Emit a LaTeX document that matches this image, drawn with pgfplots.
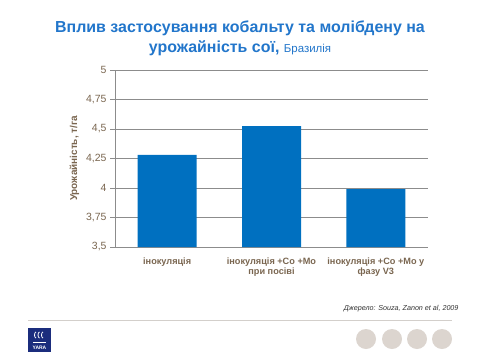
\documentclass[border=0pt]{standalone}
\usepackage{fontspec}
\setmainfont{Liberation Sans}
\usepackage{pgfplots}
\pgfplotsset{compat=1.18}
\definecolor{titleblue}{HTML}{2276CB}
\definecolor{barblue}{HTML}{0070C0}
\definecolor{lblbrown}{HTML}{7A6650}
\definecolor{gridgray}{HTML}{8C8C8C}
\definecolor{footgray}{HTML}{D3CFCB}
\definecolor{dotgray}{HTML}{DCD5CF}
\definecolor{yaranavy}{HTML}{1B2D7D}
\begin{document}
\begin{tikzpicture}[x=1bp,y=1bp]
\fill[white] (0,0) rectangle (480,360);
% title
\node[font=\bfseries\fontsize{16}{19}\selectfont, text=titleblue, align=center, anchor=center] at (240,322)
  {Вплив застосування кобальту та молібдену на\\[1pt]урожайність сої, {\mdseries\fontsize{11.5}{13}\selectfont Бразилія}};
\begin{axis}[
  at={(115bp,113bp)}, anchor=south west,
  width=313bp, height=177bp, scale only axis,
  xmin=-0.5, xmax=2.5, ymin=3.5, ymax=5,
  ytick={3.5,3.75,4,4.25,4.5,4.75,5},
  /pgf/number format/use comma,
  /pgf/number format/fixed,
  /pgf/number format/assume math mode=true,
  yticklabel style={font=\fontsize{10.5}{12}\selectfont, text=lblbrown},
  ymajorgrids, grid style={gridgray, line width=0.6pt},
  axis x line=bottom, axis y line=left,
  axis line style={gridgray, line width=0.8pt, -},
  tick align=outside,
  major tick length=5bp,
  ytick style={gridgray, line width=0.8pt},
  xtick={0,1,2},
  xticklabels={інокуляція, {інокуляція +Co +Mo\\при посіві}, {інокуляція +Co +Mo у\\фазу  V3}},
  xticklabel style={font=\bfseries\fontsize{9.2}{10.5}\selectfont, text=lblbrown, align=center, yshift=-2bp},
  xtick style={draw=none},
  minor xtick={-0.5,0.5,1.5,2.5},
  minor tick length=5bp,
  minor x tick style={gridgray, line width=0.8pt},
  ylabel={Урожайність, т/га},
  every axis y label/.style={at={(ticklabel cs:0.5)}, rotate=90, anchor=south, font=\bfseries\fontsize{10}{12}\selectfont, text=lblbrown},
  ybar, bar width=59bp,
  clip=false,
]
\addplot[fill=barblue, draw=none] coordinates {(0,4.28) (1,4.525) (2,3.99)};
\end{axis}
% source
\node[anchor=east, font=\itshape\fontsize{7.2}{8}\selectfont, text=black!80] at (462,51) {Джерело: Souza, Zanon et al, 2009};
% footer line
\draw[footgray, line width=0.8pt] (28,40) -- (452,40);
% dots
\foreach \cx in {366,392,417,442} \fill[dotgray] (\cx,21) circle (10);
% logo
\fill[yaranavy] (28,8) rectangle (51,32);
\node[text=white, font=\bfseries\fontsize{5}{6}\selectfont] at (39.5,12.5) {YARA};
\draw[white, line width=0.8pt] (33,18) -- (46,18);
\foreach \lx in {34.5,38,41.5} \draw[white, line width=0.8pt] (\lx+1.5,28) arc (90:270:1.5 and 3);
\end{tikzpicture}
\end{document}
